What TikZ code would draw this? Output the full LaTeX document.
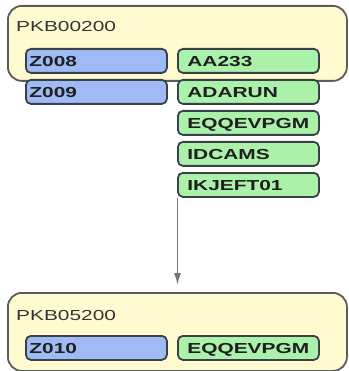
\documentclass[tikz,border=0pt]{standalone}
\usepackage{fontspec}
\setmainfont{Liberation Sans}
\usetikzlibrary{arrows.meta}
\definecolor{contfill}{RGB}{255,250,208}
\definecolor{contdraw}{RGB}{92,92,92}
\definecolor{bluefill}{RGB}{160,186,246}
\definecolor{greenfill}{RGB}{170,242,170}
\definecolor{boxdraw}{RGB}{58,64,72}
\definecolor{arrowcol}{RGB}{115,115,115}
\newcommand{\wide}[1]{\scalebox{1.44}[1]{#1}}
\tikzset{
  container/.style={draw=contdraw, fill=contfill, line width=1.8pt, rounded corners=14pt,
    anchor=north west, inner sep=0pt},
  titletext/.style={anchor=west, inner sep=0pt, text=black!80,
    font=\fontsize{14.5}{17}\selectfont, text height=10.4pt, text depth=0pt},
  basebox/.style={draw=boxdraw, line width=1.8pt, rounded corners=5pt, anchor=north west,
    minimum height=24pt, inner ysep=0pt, text height=10.4pt, text depth=0pt, align=left,
    font=\fontsize{14.5}{17}\selectfont\bfseries, text=black!88},
  bluebox/.style={basebox, fill=bluefill, inner xsep=3.5pt, text width=134pt},
  greenbox/.style={basebox, fill=greenfill, inner xsep=9.5pt, text width=122pt},
  flow/.style={draw=arrowcol, line width=1.5pt, -{Latex[length=12pt,width=7pt]}}
}
\begin{document}
\begin{tikzpicture}[x=1pt,y=-1pt]
\useasboundingbox (0,0) rectangle (348,371);
% top container
\node[container, minimum width=339pt, minimum height=75pt] (top) at (7,5) {};
\node[titletext] (t1) at (16,26) {\wide{PKB00200}};
\node[bluebox] (z008) at (25,48) {\wide{Z008}};
\node[greenbox] (aa233) at (177,48) {\wide{AA233}};
\node[bluebox] (z009) at (25,79) {\wide{Z009}};
\node[greenbox] (adarun) at (177,79) {\wide{ADARUN}};
\node[greenbox] (eqq1) at (177,110) {\wide{EQQEVPGM}};
\node[greenbox] (idcams) at (177,141) {\wide{IDCAMS}};
\node[greenbox] (ikj) at (177,172) {\wide{IKJEFT01}};
% bottom container
\node[container, minimum width=339pt, minimum height=78pt] (bot) at (7,292) {};
\node[titletext] (t2) at (16,315) {\wide{PKB05200}};
\node[bluebox] (z010) at (25,335) {\wide{Z010}};
\node[greenbox] (eqq2) at (177,335) {\wide{EQQEVPGM}};
% connector
\coordinate (s) at ([xshift=0.5pt]ikj.south west);
\coordinate (e) at ([yshift=7pt]s |- bot.north);
\draw[flow] (s) -- (e);
\end{tikzpicture}
\end{document}
